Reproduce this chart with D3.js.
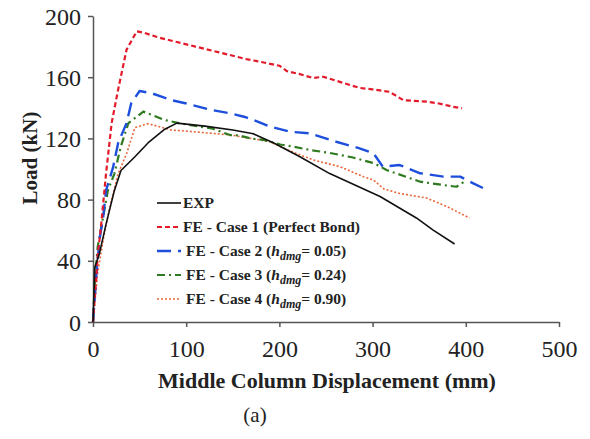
<!DOCTYPE html>
<html>
<head>
<meta charset="utf-8">
<script src="https://cdn.jsdelivr.net/npm/d3@7"></script>
<style>
  body { margin: 0; background: #fff; }
  svg { display: block; }
  .axis path, .axis line { stroke: #555; stroke-width: 1.5; }
  .title { font-family: "Liberation Serif", "Times New Roman", serif; font-weight: bold; fill: #222; }
  .legend text { font-family: "Liberation Serif", "Times New Roman", serif; font-weight: bold; font-size: 15.5px; fill: #222; }
</style>
</head>
<body>
<div id="chart"></div>
<script>
// displacement (mm) / load (kN) pairs
const expDisp  = [0, 2, 7, 14, 23, 30, 45, 59, 77, 90, 120, 150, 172, 194, 222, 254, 308, 347, 365, 388];
const expLoad  = [0, 36, 45, 64, 86, 99, 108, 117, 126, 130, 128, 125.5, 123, 117, 108, 97, 82, 68, 60, 51];

const case1Disp = [0, 2, 5, 9, 14, 20, 27, 36, 47, 55, 70, 90, 110, 130, 147, 163, 180, 200, 208, 222, 236, 247, 254, 270, 286, 300, 318, 333, 358, 370, 386, 396];
const case1Load = [0, 17, 43, 65, 97, 130, 152, 178, 190, 189, 186, 183, 180, 177, 174.5, 172, 170, 167.5, 164, 162, 159.5, 160.3, 159, 156, 153, 152, 150.5, 145, 144, 143, 140.7, 139.7];

const case2Disp = [0, 3.5, 7, 11, 14, 21.5, 27, 36, 41, 50, 63, 75, 84, 99, 127, 147, 163, 170, 190, 211, 233, 261, 286, 301, 311, 329, 351, 376, 394, 408, 419];
const case2Load = [0, 30, 54, 69, 86, 101, 117, 130, 143, 151, 149.5, 147, 145, 143, 138.6, 136.4, 134, 132.5, 127.7, 124.4, 123.3, 117.8, 113.5, 110.2, 101.5, 102.6, 97.2, 95, 95, 90.6, 87.4];

const case3Disp = [0, 2, 5, 11, 16, 23, 30, 38, 54, 77, 92, 115, 127, 147, 156, 169, 183, 201, 215, 233, 254, 279, 302, 315, 326, 340, 351, 376, 390, 401];
const case3Load = [0, 26, 49, 69, 86, 97, 115, 130, 137.5, 132, 130, 127.6, 126.6, 122.2, 122, 120, 119, 116, 114.6, 112.4, 110.5, 107.5, 103.7, 99.3, 97, 94, 91.7, 89.5, 88.4, 92.8];

const case4Disp = [0, 5, 11, 18, 27, 36, 45, 58, 63, 84, 115, 148, 190, 201, 218, 236, 265, 290, 301, 312, 329, 358, 380, 404];
const case4Load = [0, 32, 54, 75, 97, 110, 127, 129.5, 129, 125.5, 124, 122.2, 117.8, 114.6, 110.2, 106, 101.5, 95, 92.8, 87, 84, 81, 75.4, 68];

const xTicks = [0, 100, 200, 300, 400, 500];
const yTicks = [0, 40, 80, 120, 160, 200];

const seriesNames = ["EXP", "FE - Case 1 (Perfect Bond)", "FE - Case 2", "FE - Case 3", "FE - Case 4"];
const hdmgValues = [null, null, "0.05", "0.24", "0.90"];

const W = 590, H = 439;
const margin = { top: 16, left: 93, right: 31, bottom: 117 };

const svg = d3.select("#chart").append("svg").attr("width", W).attr("height", H);

const x = d3.scaleLinear().domain([0, 500]).range([margin.left, W - margin.right]);
const y = d3.scaleLinear().domain([0, 200]).range([H - margin.bottom, margin.top]);

// axes
const xAxisG = svg.append("g")
  .attr("class", "axis")
  .attr("transform", `translate(0,${y(0)})`)
  .call(d3.axisBottom(x).tickValues(xTicks).tickSize(5).tickSizeOuter(0));

const yAxisG = svg.append("g")
  .attr("class", "axis")
  .attr("transform", `translate(${x(0)},0)`)
  .call(d3.axisLeft(y).tickValues(yTicks).tickSize(5).tickSizeOuter(0).tickPadding(7));

svg.selectAll(".axis").attr("font-family", null).attr("font-size", null);
svg.selectAll(".axis .tick text")
  .style("font-family", "'Liberation Serif', 'Times New Roman', serif")
  .style("font-size", "24px")
  .style("fill", "#222")
  .attr("dy", null);
xAxisG.selectAll(".tick text").attr("y", 35);
yAxisG.selectAll(".tick text").attr("dy", "0.34em");

// titles
svg.append("text")
  .attr("class", "title")
  .attr("x", 327).attr("y", 388)
  .attr("text-anchor", "middle")
  .style("font-size", "22px")
  .text("Middle Column Displacement (mm)");

svg.append("text")
  .attr("class", "title")
  .attr("transform", "translate(37,158) rotate(-90)")
  .attr("text-anchor", "middle")
  .style("font-size", "21px")
  .text("Load (kN)");

svg.append("text")
  .attr("x", 255).attr("y", 422)
  .attr("text-anchor", "middle")
  .style("font-family", "'Liberation Serif', serif")
  .style("font-size", "21px")
  .attr("fill", "#222")
  .text("(a)");

// series
const series = [
  { disp: expDisp,   load: expLoad,   color: "#111111", dash: null,        width: 1.6 },
  { disp: case1Disp, load: case1Load, color: "#e31a2a", dash: "5,3",       width: 2.2 },
  { disp: case2Disp, load: case2Load, color: "#1d4fdc", dash: "14,7",      width: 2.4 },
  { disp: case3Disp, load: case3Load, color: "#2f7a1f", dash: "8,4,2,4",   width: 2.2 },
  { disp: case4Disp, load: case4Load, color: "#e8663a", dash: "2,2",       width: 1.6 }
];

const line = d3.line().x(d => x(d[0])).y(d => y(d[1]));

// draw back to front so EXP stays on top
series.slice().reverse().forEach(s => {
  svg.append("path")
    .datum(d3.zip(s.disp, s.load))
    .attr("fill", "none")
    .attr("stroke", s.color)
    .attr("stroke-width", s.width)
    .attr("stroke-dasharray", s.dash)
    .attr("stroke-linejoin", "round")
    .attr("d", line);
});

// legend
const legend = svg.append("g").attr("class", "legend");
const rowY = [203, 227, 251, 275, 299];
series.forEach((s, i) => {
  legend.append("line")
    .attr("x1", 157).attr("x2", 181)
    .attr("y1", rowY[i]).attr("y2", rowY[i])
    .attr("stroke", s.color)
    .attr("stroke-width", s.width)
    .attr("stroke-dasharray", s.dash);
  const t = legend.append("text")
    .attr("x", i >= 2 ? 186 : 183)
    .attr("y", rowY[i] + 5);
  if (hdmgValues[i] === null) {
    t.text(seriesNames[i]);
  } else {
    t.append("tspan").text(seriesNames[i] + " (");
    t.append("tspan").style("font-style", "italic").text("h");
    t.append("tspan").style("font-style", "italic").style("font-size", "12px").attr("dy", 4).text("dmg");
    t.append("tspan").attr("dy", -4).text("= " + hdmgValues[i] + ")");
  }
});
</script>
</body>
</html>
